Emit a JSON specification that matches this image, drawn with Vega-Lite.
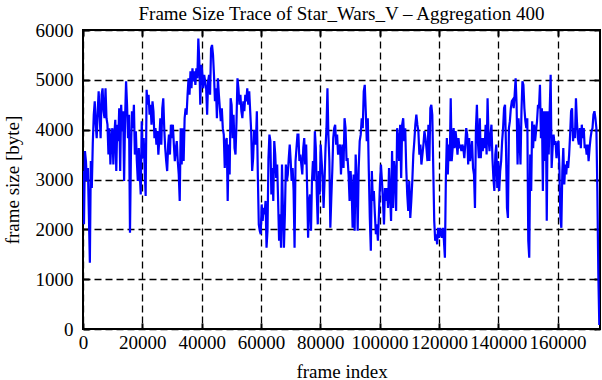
{
  "$schema": "https://vega.github.io/schema/vega-lite/v6.json",
  "width": 517,
  "height": 299,
  "autosize": "none",
  "padding": {"left": 83, "top": 30, "right": 2, "bottom": 51},
  "background": "white",
  "title": {"text": "Frame Size Trace of Star_Wars_V – Aggregation 400", "font": "Liberation Serif", "fontSize": 19, "fontWeight": "normal", "color": "black", "anchor": "middle", "offset": 7, "dy": 10},
  "config": {"view": {"stroke": "black", "strokeWidth": 2}},
  "data": {"values": [
{"frame":0,"size":3170},{"frame":330,"size":2100},{"frame":660,"size":3570},{"frame":990,"size":3370},{"frame":1320,"size":2970},{"frame":1650,"size":3230},{"frame":1980,"size":2300},{"frame":2310,"size":1330},{"frame":2640,"size":3370},{"frame":2970,"size":2830},
{"frame":3300,"size":3730},{"frame":3630,"size":4300},{"frame":3960,"size":4570},{"frame":4290,"size":4100},{"frame":4620,"size":3830},{"frame":4950,"size":4370},{"frame":5280,"size":4770},{"frame":5610,"size":4300},{"frame":5940,"size":3830},{"frame":6270,"size":4700},
{"frame":6600,"size":4830},{"frame":6930,"size":4370},{"frame":7260,"size":4230},{"frame":7590,"size":4830},{"frame":7920,"size":4230},{"frame":8250,"size":4100},{"frame":8580,"size":3500},{"frame":8910,"size":4030},{"frame":9240,"size":3300},{"frame":9570,"size":3830},
{"frame":9900,"size":4030},{"frame":10230,"size":3300},{"frame":10560,"size":3900},{"frame":10890,"size":4200},{"frame":11220,"size":3170},{"frame":11550,"size":4100},{"frame":11880,"size":3770},{"frame":12210,"size":4430},{"frame":12540,"size":3170},{"frame":12870,"size":4500},
{"frame":13200,"size":3970},{"frame":13530,"size":4370},{"frame":13860,"size":2970},{"frame":14190,"size":4230},{"frame":14520,"size":4970},{"frame":14850,"size":4500},{"frame":15180,"size":3830},{"frame":15510,"size":4300},{"frame":15840,"size":1930},{"frame":16170,"size":3570},
{"frame":16500,"size":4370},{"frame":16830,"size":4030},{"frame":17160,"size":4500},{"frame":17490,"size":3500},{"frame":17820,"size":3970},{"frame":18150,"size":3370},{"frame":18480,"size":2970},{"frame":18810,"size":3630},{"frame":19140,"size":3100},{"frame":19470,"size":2700},
{"frame":19800,"size":4170},{"frame":20130,"size":3430},{"frame":20460,"size":3830},{"frame":20790,"size":3230},{"frame":21120,"size":2670},{"frame":21450,"size":4800},{"frame":21780,"size":4500},{"frame":22110,"size":4700},{"frame":22440,"size":4300},{"frame":22770,"size":4500},
{"frame":23100,"size":4100},{"frame":23430,"size":4570},{"frame":23760,"size":4370},{"frame":24090,"size":3830},{"frame":24420,"size":4030},{"frame":24750,"size":3700},{"frame":25080,"size":3970},{"frame":25410,"size":3500},{"frame":25740,"size":3830},{"frame":26070,"size":4230},
{"frame":26400,"size":3700},{"frame":26730,"size":4430},{"frame":27060,"size":4630},{"frame":27390,"size":4030},{"frame":27720,"size":3630},{"frame":28050,"size":3370},{"frame":28380,"size":3170},{"frame":28710,"size":3700},
{"frame":28980,"size":3900},{"frame":29310,"size":3500},{"frame":29640,"size":4100},{"frame":29970,"size":3830},{"frame":30300,"size":4100},{"frame":30630,"size":3700},{"frame":30960,"size":3370},{"frame":31290,"size":3630},{"frame":31620,"size":3770},{"frame":31950,"size":3370},
{"frame":32280,"size":3100},{"frame":32610,"size":2570},{"frame":32940,"size":4030},{"frame":33270,"size":3300},{"frame":33600,"size":4030},{"frame":33930,"size":3370},{"frame":34260,"size":4230},{"frame":34590,"size":4430},{"frame":34920,"size":4300},{"frame":35250,"size":4700},
{"frame":35580,"size":5030},{"frame":35910,"size":4700},{"frame":36240,"size":5170},{"frame":36570,"size":4830},{"frame":36900,"size":5230},{"frame":37230,"size":4970},{"frame":37560,"size":5170},{"frame":37890,"size":4900},{"frame":38220,"size":5230},{"frame":38550,"size":5030},
{"frame":38880,"size":5830},{"frame":39210,"size":5370},{"frame":39540,"size":4500},{"frame":39870,"size":5300},{"frame":40200,"size":5170},{"frame":40530,"size":4830},{"frame":40860,"size":5100},{"frame":41190,"size":4970},{"frame":41520,"size":4830},{"frame":41850,"size":4300},
{"frame":42180,"size":4970},{"frame":42510,"size":5100},{"frame":42840,"size":4700},{"frame":43170,"size":5630},{"frame":43500,"size":5700},{"frame":43830,"size":5500},{"frame":44160,"size":5100},{"frame":44490,"size":4570},{"frame":44820,"size":4830},{"frame":45150,"size":4230},
{"frame":45480,"size":5030},{"frame":45810,"size":4700},{"frame":46140,"size":4430},{"frame":46470,"size":4170},{"frame":46800,"size":4430},{"frame":47130,"size":4030},{"frame":47460,"size":3900},{"frame":47790,"size":3230},{"frame":48120,"size":3770},{"frame":48450,"size":3830},
{"frame":48780,"size":2570},{"frame":49110,"size":3700},{"frame":49440,"size":3100},{"frame":49770,"size":4630},{"frame":50100,"size":4500},{"frame":50430,"size":3830},{"frame":50760,"size":4300},{"frame":51090,"size":3630},{"frame":51420,"size":3500},{"frame":51750,"size":4170},
{"frame":52080,"size":5030},{"frame":52410,"size":4830},{"frame":52740,"size":4500},{"frame":53070,"size":4700},{"frame":53400,"size":4370},{"frame":53730,"size":4230},{"frame":54060,"size":4570},{"frame":54390,"size":4370},{"frame":54720,"size":4700},{"frame":55050,"size":4570},
{"frame":55380,"size":4830},{"frame":55710,"size":4500},{"frame":56040,"size":4770},{"frame":56370,"size":4370},{"frame":56700,"size":3970},{"frame":57030,"size":3170},{"frame":57360,"size":3430},{"frame":57690,"size":3970},
{"frame":57960,"size":3970},{"frame":58286,"size":3700},{"frame":58612,"size":4370},{"frame":58938,"size":3100},{"frame":59264,"size":2100},{"frame":59590,"size":1970},{"frame":59916,"size":1900},{"frame":60242,"size":2500},{"frame":60568,"size":2170},{"frame":60894,"size":2430},
{"frame":61220,"size":2300},{"frame":61546,"size":2570},{"frame":61872,"size":1630},{"frame":62198,"size":1970},{"frame":62524,"size":3430},{"frame":62850,"size":3900},{"frame":63176,"size":3770},{"frame":63502,"size":2700},{"frame":63828,"size":3230},{"frame":64154,"size":2570},
{"frame":64480,"size":3770},{"frame":64806,"size":3500},{"frame":65132,"size":3030},{"frame":65458,"size":3300},{"frame":65784,"size":2570},{"frame":66110,"size":1770},{"frame":66436,"size":2300},{"frame":66762,"size":1630},{"frame":67088,"size":3300},{"frame":67414,"size":2370},
{"frame":67740,"size":1630},{"frame":68066,"size":2300},{"frame":68392,"size":3300},{"frame":68718,"size":2970},{"frame":69044,"size":3100},{"frame":69370,"size":3430},{"frame":69696,"size":3700},{"frame":70022,"size":3370},{"frame":70348,"size":2970},{"frame":70674,"size":3230},
{"frame":71000,"size":2770},{"frame":71326,"size":1630},{"frame":71652,"size":3370},{"frame":71978,"size":3630},{"frame":72304,"size":3900},{"frame":72630,"size":3900},{"frame":72956,"size":3370},{"frame":73282,"size":3500},{"frame":73608,"size":3300},{"frame":73934,"size":3100},
{"frame":74260,"size":3630},{"frame":74586,"size":3830},{"frame":74912,"size":3300},{"frame":75238,"size":3700},{"frame":75564,"size":2830},{"frame":75890,"size":1830},{"frame":76216,"size":2570},{"frame":76542,"size":2700},{"frame":76868,"size":1970},{"frame":77194,"size":2970},
{"frame":77520,"size":3370},{"frame":77846,"size":2970},{"frame":78172,"size":3970},{"frame":78498,"size":3630},{"frame":78824,"size":2700},{"frame":79150,"size":2100},{"frame":79476,"size":3170},{"frame":79802,"size":2700},{"frame":80128,"size":3700},{"frame":80454,"size":3370},
{"frame":80780,"size":3030},{"frame":81106,"size":2430},{"frame":81432,"size":2970},{"frame":81758,"size":3630},{"frame":82084,"size":4030},{"frame":82410,"size":4830},{"frame":82736,"size":3900},{"frame":83062,"size":3370},{"frame":83388,"size":2030},{"frame":83714,"size":2630},
{"frame":84040,"size":3170},{"frame":84366,"size":3830},{"frame":84692,"size":4030},{"frame":85018,"size":4100},{"frame":85344,"size":3700},{"frame":85670,"size":3900},{"frame":85996,"size":3500},{"frame":86322,"size":3630},{"frame":86648,"size":3700},{"frame":86974,"size":3100},
{"frame":87150,"size":3370},{"frame":87491,"size":3700},{"frame":87832,"size":3230},{"frame":88173,"size":4230},{"frame":88514,"size":4030},{"frame":88855,"size":3370},{"frame":89196,"size":3430},{"frame":89537,"size":3100},{"frame":89878,"size":2570},{"frame":90219,"size":3170},
{"frame":90560,"size":2830},{"frame":90901,"size":2030},{"frame":91242,"size":3100},{"frame":91583,"size":1970},{"frame":91924,"size":3500},{"frame":92265,"size":2970},{"frame":92606,"size":1970},{"frame":92947,"size":3230},{"frame":93288,"size":3770},{"frame":93629,"size":3900},
{"frame":93970,"size":4230},{"frame":94311,"size":4030},{"frame":94652,"size":4770},{"frame":94993,"size":4900},{"frame":95334,"size":4370},{"frame":95675,"size":3770},{"frame":96016,"size":4230},{"frame":96357,"size":3170},{"frame":96698,"size":2230},{"frame":97039,"size":1570},
{"frame":97380,"size":3170},{"frame":97721,"size":2570},{"frame":98062,"size":2770},{"frame":98403,"size":2300},{"frame":98744,"size":1900},{"frame":99085,"size":2100},{"frame":99426,"size":1770},{"frame":99767,"size":2300},{"frame":100108,"size":2900},{"frame":100449,"size":3300},
{"frame":100790,"size":2970},{"frame":101131,"size":2570},{"frame":101472,"size":2100},{"frame":101813,"size":2830},{"frame":102154,"size":2570},{"frame":102495,"size":2830},{"frame":102836,"size":2430},{"frame":103177,"size":3230},{"frame":103518,"size":2700},{"frame":103859,"size":2170},
{"frame":104200,"size":3570},{"frame":104541,"size":2430},{"frame":104882,"size":3370},{"frame":105223,"size":3100},{"frame":105564,"size":2370},{"frame":105905,"size":4030},{"frame":106246,"size":3830},{"frame":106587,"size":3370},{"frame":106928,"size":4100},{"frame":107269,"size":3030},
{"frame":107610,"size":4100},{"frame":107951,"size":4230},{"frame":108292,"size":3770},{"frame":108633,"size":4030},{"frame":108974,"size":3230},{"frame":109315,"size":2700},{"frame":109656,"size":2370},{"frame":109997,"size":2970},{"frame":110338,"size":2230},{"frame":110679,"size":2570},
{"frame":111020,"size":2970},{"frame":111361,"size":3500},{"frame":111702,"size":3770},{"frame":112043,"size":4100},{"frame":112384,"size":4300},{"frame":112725,"size":4100},{"frame":113066,"size":3970},{"frame":113407,"size":3500},{"frame":113748,"size":3700},{"frame":114089,"size":3300},
{"frame":114430,"size":3500},{"frame":114771,"size":3700},{"frame":115112,"size":3970},{"frame":115453,"size":3830},{"frame":115794,"size":3630},{"frame":116135,"size":3370},
{"frame":116450,"size":4100},{"frame":116777,"size":3370},{"frame":117104,"size":4430},{"frame":117431,"size":4500},{"frame":117758,"size":4300},{"frame":118085,"size":3230},{"frame":118412,"size":2170},{"frame":118739,"size":1770},{"frame":119066,"size":1900},{"frame":119393,"size":1700},
{"frame":119720,"size":2030},{"frame":120047,"size":1830},{"frame":120374,"size":2030},{"frame":120701,"size":1900},{"frame":121028,"size":1830},{"frame":121355,"size":2030},{"frame":121682,"size":1770},{"frame":122009,"size":1430},{"frame":122336,"size":3030},{"frame":122663,"size":3830},
{"frame":122990,"size":3100},{"frame":123317,"size":3700},{"frame":123644,"size":3370},{"frame":123971,"size":4630},{"frame":124298,"size":3370},{"frame":124625,"size":3630},{"frame":124952,"size":4030},{"frame":125279,"size":3630},{"frame":125606,"size":3970},{"frame":125933,"size":3770},
{"frame":126260,"size":3500},{"frame":126587,"size":3830},{"frame":126914,"size":3630},{"frame":127241,"size":3700},{"frame":127568,"size":3570},{"frame":127895,"size":3700},{"frame":128222,"size":3630},{"frame":128549,"size":3430},{"frame":128876,"size":3700},{"frame":129203,"size":4030},
{"frame":129530,"size":3900},{"frame":129857,"size":3300},{"frame":130184,"size":3830},{"frame":130511,"size":3370},{"frame":130838,"size":3570},{"frame":131165,"size":3770},{"frame":131492,"size":3230},{"frame":131819,"size":3100},{"frame":132146,"size":2430},{"frame":132473,"size":4030},
{"frame":132800,"size":4500},{"frame":133127,"size":3770},{"frame":133454,"size":3430},{"frame":133781,"size":4230},{"frame":134108,"size":3430},{"frame":134435,"size":3830},{"frame":134762,"size":3570},{"frame":135089,"size":3830},{"frame":135416,"size":3630},{"frame":135743,"size":4100},
{"frame":136070,"size":3500},{"frame":136397,"size":4630},{"frame":136724,"size":3830},{"frame":137051,"size":3570},{"frame":137378,"size":3900},{"frame":137705,"size":4100},{"frame":138032,"size":3430},{"frame":138359,"size":3030},{"frame":138686,"size":2770},{"frame":139013,"size":3500},
{"frame":139340,"size":3700},{"frame":139667,"size":2830},{"frame":139994,"size":3370},{"frame":140321,"size":2770},{"frame":140648,"size":3170},{"frame":140975,"size":3370},{"frame":141302,"size":3770},{"frame":141629,"size":4030},{"frame":141956,"size":4430},{"frame":142283,"size":4500},
{"frame":142610,"size":3630},{"frame":142937,"size":2430},{"frame":143264,"size":2230},{"frame":143591,"size":4030},{"frame":143918,"size":4170},{"frame":144245,"size":4430},{"frame":144572,"size":4570},{"frame":144899,"size":4600},
{"frame":145200,"size":4430},{"frame":145528,"size":4700},{"frame":145856,"size":5030},{"frame":146184,"size":4500},{"frame":146512,"size":3300},{"frame":146840,"size":4230},{"frame":147168,"size":3830},{"frame":147496,"size":3300},{"frame":147824,"size":4370},{"frame":148152,"size":4970},
{"frame":148480,"size":4900},{"frame":148808,"size":4430},{"frame":149136,"size":4170},{"frame":149464,"size":4030},{"frame":149792,"size":4230},{"frame":150120,"size":1770},{"frame":150448,"size":1430},{"frame":150776,"size":3500},{"frame":151104,"size":2770},{"frame":151432,"size":4170},
{"frame":151760,"size":3630},{"frame":152088,"size":4100},{"frame":152416,"size":3770},{"frame":152744,"size":3970},{"frame":153072,"size":4170},{"frame":153400,"size":4500},{"frame":153728,"size":4430},{"frame":154056,"size":4900},{"frame":154384,"size":3830},{"frame":154712,"size":4430},
{"frame":155040,"size":2770},{"frame":155368,"size":4370},{"frame":155696,"size":3370},{"frame":156024,"size":4370},{"frame":156352,"size":2170},{"frame":156680,"size":4370},{"frame":157008,"size":3500},{"frame":157336,"size":4370},{"frame":157664,"size":5100},{"frame":157992,"size":3230},
{"frame":158320,"size":3630},{"frame":158648,"size":3900},{"frame":158976,"size":3700},{"frame":159304,"size":3770},{"frame":159632,"size":3430},{"frame":159960,"size":3700},{"frame":160288,"size":3770},{"frame":160616,"size":3230},{"frame":160944,"size":2230},{"frame":161272,"size":2030},
{"frame":161600,"size":3170},{"frame":161928,"size":3630},{"frame":162256,"size":2900},{"frame":162584,"size":3300},{"frame":162912,"size":3100},{"frame":163240,"size":3370},{"frame":163568,"size":3230},{"frame":163896,"size":3500},{"frame":164224,"size":3900},{"frame":164552,"size":4370},
{"frame":164880,"size":4430},{"frame":165208,"size":3770},{"frame":165536,"size":4030},{"frame":165864,"size":3830},{"frame":166192,"size":4630},{"frame":166520,"size":4170},{"frame":166848,"size":3830},{"frame":167176,"size":3700},{"frame":167504,"size":4030},{"frame":167832,"size":3630},
{"frame":168160,"size":4100},{"frame":168488,"size":3830},{"frame":168816,"size":4030},{"frame":169144,"size":3630},{"frame":169472,"size":3700},{"frame":169800,"size":3500},{"frame":170128,"size":3700},{"frame":170456,"size":3370},{"frame":170784,"size":3630},{"frame":171112,"size":3830},
{"frame":171440,"size":3970},{"frame":171768,"size":4030},{"frame":172096,"size":4300},{"frame":172424,"size":4370},{"frame":172752,"size":4230},{"frame":173080,"size":4030},{"frame":173408,"size":2770},{"frame":173736,"size":1100},{"frame":174064,"size":80}
  ]},
  "layer": [
    {
      "mark": {"type": "line", "opacity": 0},
      "encoding": {
        "x": {"field": "frame", "type": "quantitative", "scale": {"domain": [0, 174300], "nice": false, "zero": false},
              "axis": {"orient": "top", "values": [0,20000,40000,60000,80000,100000,120000,140000,160000], "labels": false, "grid": false, "domain": false, "title": null, "tickSize": -6, "tickWidth": 2, "tickColor": "black"}},
        "y": {"field": "size", "type": "quantitative", "scale": {"domain": [0, 6000], "nice": false},
              "axis": {"orient": "right", "values": [0,1000,2000,3000,4000,5000,6000], "labels": false, "grid": false, "domain": false, "title": null, "tickSize": -6, "tickWidth": 2, "tickColor": "black"}}
      }
    },
    {
      "mark": {"type": "line", "color": "#0000ff", "strokeWidth": 2.2, "strokeJoin": "miter", "clip": true},
      "encoding": {
        "x": {"field": "frame", "type": "quantitative", "scale": {"domain": [0, 174300], "nice": false, "zero": false},
              "axis": {"orient": "bottom", "values": [0,20000,40000,60000,80000,100000,120000,140000,160000], "format": "d",
                       "grid": true, "gridColor": "black", "gridDash": [7,4], "gridWidth": 1.3, "gridOpacity": 1,
                       "domain": false, "tickSize": -6, "tickWidth": 2, "tickColor": "black",
                       "labelFont": "Liberation Serif", "labelFontSize": 19, "labelColor": "black", "labelPadding": 10, "labelFlush": false, "labelOverlap": false, "labelBound": false,
                       "title": "frame index", "titleFont": "Liberation Serif", "titleFontSize": 19, "titleFontWeight": "normal", "titleColor": "black", "titlePadding": 10}},
        "y": {"field": "size", "type": "quantitative", "scale": {"domain": [0, 6000], "nice": false},
              "axis": {"orient": "left", "values": [0,1000,2000,3000,4000,5000,6000], "format": "d",
                       "grid": true, "gridColor": "black", "gridDash": [7,4], "gridWidth": 1.3, "gridOpacity": 1,
                       "domain": false, "tickSize": -6, "tickWidth": 2, "tickColor": "black",
                       "labelFont": "Liberation Serif", "labelFontSize": 19, "labelColor": "black", "labelPadding": 16, "labelFlush": false, "labelOverlap": false, "labelBound": false,
                       "title": "frame size [byte]", "titleFont": "Liberation Serif", "titleFontSize": 19, "titleFontWeight": "normal", "titleColor": "black", "titlePadding": 13}}
      }
    }
  ],
  "resolve": {"axis": {"x": "independent", "y": "independent"}}
}
